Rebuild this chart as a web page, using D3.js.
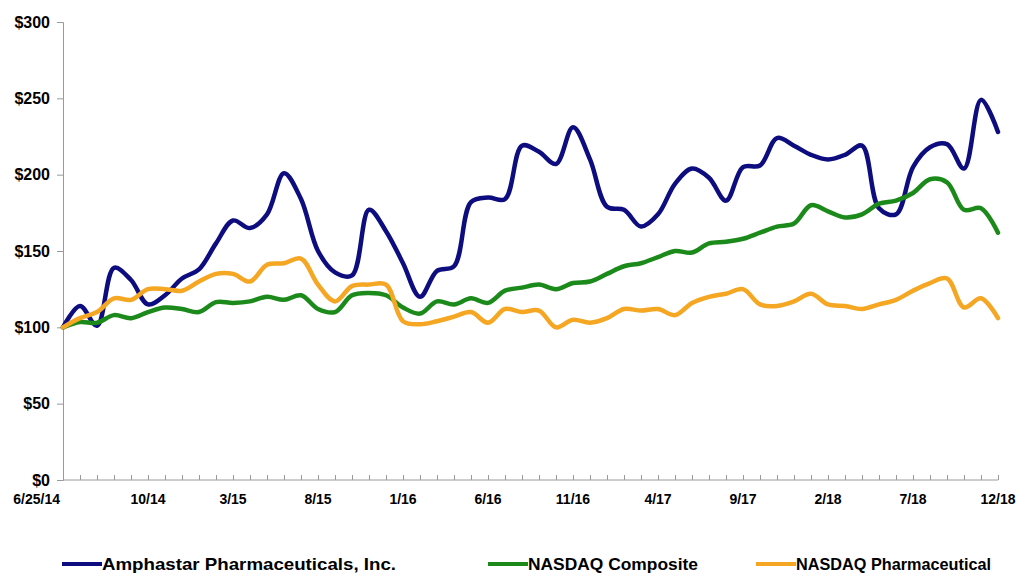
<!DOCTYPE html>
<html>
<head>
<meta charset="utf-8">
<script src="https://cdn.jsdelivr.net/npm/d3@7"></script>
<style>
  body { margin: 0; background: #fff; }
  text { font-family: "Liberation Sans", Arial, sans-serif; font-weight: bold; fill: #000; }
</style>
</head>
<body>
<div id="chart"></div>
<script>
// month-end points, first one is the IPO date
const periods = [
  "6/25/14", "6/14", "7/14", "8/14", "9/14", "10/14", "11/14", "12/14",
  "1/15", "2/15", "3/15", "4/15", "5/15", "6/15", "7/15", "8/15", "9/15", "10/15", "11/15", "12/15",
  "1/16", "2/16", "3/16", "4/16", "5/16", "6/16", "7/16", "8/16", "9/16", "10/16", "11/16", "12/16",
  "1/17", "2/17", "3/17", "4/17", "5/17", "6/17", "7/17", "8/17", "9/17", "10/17", "11/17", "12/17",
  "1/18", "2/18", "3/18", "4/18", "5/18", "6/18", "7/18", "8/18", "9/18", "10/18", "11/18", "12/18"
];
const tickLabels = ["6/25/14", "10/14", "3/15", "8/15", "1/16", "6/16", "11/16", "4/17", "9/17", "2/18", "7/18", "12/18"];
const yTicks = [0, 50, 100, 150, 200, 250, 300];

const amphastar = [
  100, 114, 101, 139, 131, 115, 121, 132, 138, 155, 170, 165, 174, 201, 184, 150, 136, 134, 177, 163,
  142, 120, 137, 140, 182, 185, 184, 219, 215, 207, 231, 210, 179, 177, 166, 174, 194, 204, 198, 183,
  205, 206, 224, 219, 213, 210, 213, 219, 178, 174, 205, 218, 220, 204, 249, 228
];
const nasdaqComposite = [
  100, 103.5, 103, 108, 106, 110, 113, 112, 110, 116.5, 116, 117, 120, 118, 121, 112, 110, 121, 122.5, 121,
  113, 109, 117, 115, 119, 116, 124, 126, 128, 125, 129, 130, 135, 140, 142, 146, 150, 149, 155, 156,
  158, 162, 166, 168, 180, 176, 172, 174, 181, 183, 188, 197, 195, 177, 178, 162
];
const nasdaqPharma = [
  100, 106, 110, 119, 118, 125, 125, 124, 130, 135, 135, 130, 141, 142, 145, 128, 117, 127, 128, 128,
  104, 102, 104, 107, 110, 103, 112, 110, 111, 100, 105, 103, 106, 112, 111, 112, 108, 116, 120, 122,
  125, 115, 114, 117, 122, 115, 114, 112, 115, 118, 124, 129, 132, 113, 119, 106
];

const seriesNames = ["Amphastar Pharmaceuticals, Inc.", "NASDAQ Composite", "NASDAQ Pharmaceutical"];
const seriesColors = ["#0d0d80", "#1b8a1b", "#f5a623"];
const seriesValues = [amphastar, nasdaqComposite, nasdaqPharma];

const width = 1018, height = 573;
const margin = { top: 22, right: 20, bottom: 93, left: 63 };

const svg = d3.select("#chart").append("svg")
  .attr("width", width)
  .attr("height", height);

const x = d3.scalePoint()
  .domain(periods)
  .range([margin.left, width - margin.right]);

const y = d3.scaleLinear()
  .domain([0, 300])
  .range([height - margin.bottom, margin.top]);

// y axis
const yAxis = svg.append("g")
  .attr("transform", `translate(${margin.left},0)`)
  .call(d3.axisLeft(y).tickValues(yTicks).tickSize(6).tickFormat(d => "$" + d));
yAxis.selectAll("path, line").attr("stroke", "#9a9a9a");
yAxis.selectAll("text")
  .attr("x", -13)
  .style("font-size", "16px")
  .style("font-family", "'Liberation Sans', Arial, sans-serif")
  .style("font-weight", "bold");

// x axis, small inward ticks for every month
const xAxis = svg.append("g")
  .attr("transform", `translate(0,${height - margin.bottom})`)
  .call(d3.axisBottom(x).tickSize(-5).tickSizeOuter(0).tickFormat(""));
xAxis.selectAll("path, line").attr("stroke", "#9a9a9a");
xAxis.select(".domain").attr("d", `M${margin.left},0H${width - margin.right}`);

svg.append("g")
  .selectAll("text")
  .data(tickLabels)
  .enter()
  .append("text")
  .attr("x", (d, i) => i === 0 ? x(d) - 3 : x(d))
  .attr("y", height - margin.bottom + 24)
  .attr("text-anchor", (d, i) => i === 0 ? "end" : "middle")
  .style("font-size", "14px")
  .text(d => d);

// lines
const line = d3.line()
  .x((d, i) => x(periods[i]))
  .y(d => y(d))
  .curve(d3.curveCatmullRom.alpha(0.5));

svg.append("g")
  .selectAll("path")
  .data(seriesValues)
  .enter()
  .append("path")
  .attr("d", d => line(d))
  .attr("fill", "none")
  .attr("stroke", (d, i) => seriesColors[i])
  .attr("stroke-width", 4.5)
  .attr("stroke-linejoin", "round")
  .attr("stroke-linecap", "round");

// legend
const legendX = [62, 488, 756];
const legendTextW = [294, 170, 195];
const legend = svg.append("g")
  .selectAll("g")
  .data(seriesNames)
  .enter()
  .append("g")
  .attr("transform", (d, i) => `translate(${legendX[i]},564)`);

legend.append("line")
  .attr("x1", 0).attr("x2", 40)
  .attr("y1", 0).attr("y2", 0)
  .attr("stroke", (d, i) => seriesColors[i])
  .attr("stroke-width", 4);

legend.append("text")
  .attr("x", 40)
  .attr("y", 6)
  .attr("textLength", (d, i) => legendTextW[i])
  .attr("lengthAdjust", "spacingAndGlyphs")
  .style("font-size", "17px")
  .text(d => d);
</script>
</body>
</html>
